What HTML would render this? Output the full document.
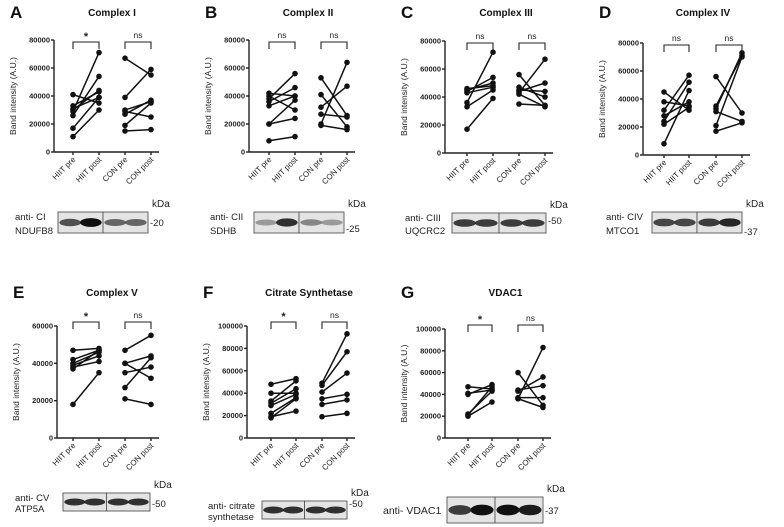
<!DOCTYPE html>
<html><head><meta charset="utf-8"><style>
html,body{margin:0;padding:0;background:#fff;}
svg{display:block;font-family:"Liberation Sans",Arial,sans-serif;}
</style></head><body>
<svg id="fig" width="784" height="527" viewBox="0 0 784 527" xmlns="http://www.w3.org/2000/svg"></svg>
<script>
const categories = ["HIIT pre","HIIT post","CON pre","CON post"];
const ticksTop = [0,20000,40000,60000,80000];
const ticksE = [0,20000,40000,60000];
const ticksFG = [0,20000,40000,60000,80000,100000];
const aHiitPre=[41,33,31,30,29,26,17,11], aHiitPost=[35,43,39,44,71,54,39,30];
const aConPre=[67,39,30,29,27,19,15], aConPost=[55,59,36,25,37,35,16];
const bHiitPre=[42,40,38,36,33,20,20,8], bHiitPost=[40,30,56,46,40,37,24,11];
const bConPre=[53,41,32,27,20,19], bConPost=[26,18,47,25,64,16];
const cHiitPre=[46,45,44,43,36,33,17], cHiitPost=[48,50,54,47,72,45,39];
const cConPre=[56,47,45,44,43,42,35], cConPost=[34,40,44,50,67,33,34];
const dHiitPre=[45,38,32,28,24,22,8], dHiitPost=[32,35,57,38,52,34,46];
const dConPre=[56,35,33,31,21,17], dConPost=[30,71,73,24,70,23];
const eHiitPre=[47,42,40,39,38,37,18], eHiitPost=[48,47,46,44,41,47,35];
const eConPre=[47,40,40,35,27,21], eConPost=[55,44,32,38,43,18];
const fHiitPre=[48,40,33,31,29,22,19,18], fHiitPost=[53,40,51,44,39,36,24,35];
const fConPre=[49,47,41,35,30,19], fConPost=[93,77,58,39,34,22];
const gHiitPre=[47,41,40,22,21,20], gHiitPost=[45,44,49,43,47,33];
const gConPre=[60,44,43,37,36,36], gConPost=[30,48,56,37,83,28];
const sigLabels=["*","ns","ns","ns","*","*","*"];
const sigCon=["ns","ns","ns","ns","ns","ns","ns"];

const panels=[
 {k:"a",L:"A",t:"Complex I",ax:54,cx:[73,99,125,151],y0:152,yT:40,ticks:ticksTop,hp:aHiitPre,ho:aHiitPost,cp:aConPre,co:aConPost,s:0,
  blot:{x:58,w:90,y:212,h:21,lx:15,l1:"anti- CI",l2:"NDUFB8",kda:"-20",ky:226,dark:[0.7,1,0.6,0.6]}},
 {k:"b",L:"B",t:"Complex II",ax:249,cx:[269,295,321,347],y0:152,yT:40,ticks:ticksTop,hp:bHiitPre,ho:bHiitPost,cp:bConPre,co:bConPost,s:1,
  blot:{x:254,w:90,y:212,h:21,lx:210,l1:"anti- CII",l2:"SDHB",kda:"-25",ky:232,dark:[0.35,0.85,0.45,0.35]}},
 {k:"c",L:"C",t:"Complex III",ax:445,cx:[467,493,519,545],y0:153,yT:41,ticks:ticksTop,hp:cHiitPre,ho:cHiitPost,cp:cConPre,co:cConPost,s:2,
  blot:{x:452,w:94,y:213,h:20,lx:405,l1:"anti- CIII",l2:"UQCRC2",kda:"-50",ky:224,dark:[0.8,0.8,0.8,0.8]}},
 {k:"d",L:"D",t:"Complex IV",ax:643,cx:[664,689,716,742],y0:155,yT:43,ticks:ticksTop,hp:dHiitPre,ho:dHiitPost,cp:dConPre,co:dConPost,s:3,
  blot:{x:652,w:90,y:212,h:21,lx:606,l1:"anti- CIV",l2:"MTCO1",kda:"-37",ky:235,dark:[0.75,0.75,0.8,0.9]}},
 {k:"e",L:"E",t:"Complex V",ax:57,cx:[73,99,125,151],y0:438,yT:326,ticks:ticksE,hp:eHiitPre,ho:eHiitPost,cp:eConPre,co:eConPost,s:4,
  blot:{x:63,w:87,y:493,h:18,lx:15,l1:"anti- CV",l2:"ATP5A",kda:"-50",ky:507,dark:[0.85,0.85,0.85,0.85]}},
 {k:"f",L:"F",t:"Citrate Synthetase",ax:247,cx:[271,296,322,347],y0:438,yT:326,ticks:ticksFG,hp:fHiitPre,ho:fHiitPost,cp:fConPre,co:fConPost,s:5,
  blot:{x:262,w:85,y:501,h:18,lx:208,l1:"anti- citrate",l2:"synthetase",kda:"-50",ky:507,dark:[0.85,0.85,0.85,0.85]}},
 {k:"g",L:"G",t:"VDAC1",ax:445,cx:[468,492,518,543],y0:438,yT:329,ticks:ticksFG,hp:gHiitPre,ho:gHiitPost,cp:gConPre,co:gConPost,s:6,
  blot:{x:447,w:96,y:497,h:26,lx:383,l1:"anti- VDAC1",l2:"",kda:"-37",ky:514,dark:[0.8,1,1,0.95]}}
];
const svg=document.getElementById('fig');
const NS="http://www.w3.org/2000/svg";
function mk(tag,attrs,parent){const e=document.createElementNS(NS,tag);for(const a in attrs)e.setAttribute(a,attrs[a]);(parent||svg).appendChild(e);return e;}
function txt(s,attrs,parent){const e=mk('text',attrs,parent);e.textContent=s;return e;}

panels.forEach(p=>{
  const g=mk('g',{});
  
  
  const ymax=p.ticks[p.ticks.length-1];
  const Y=v=>p.y0-(v/ymax)*(p.y0-p.yT);
  const X=i=>p.cx[i];
  const isTop=p.y0<200;
  const ty=isTop?17:297;
  const lt=txt(p.L,{x:p.ax-44,y:ty+1,'font-size':17,'font-weight':'bold',fill:'#111'},g);
  
  
  const tt=txt(p.t,{x:(p.cx[0]+p.cx[3])/2,y:ty-1,'font-size':10,'font-weight':'bold','text-anchor':'middle',fill:'#111'},g);
  
  
  const ya=mk('line',{x1:p.ax,y1:p.yT,x2:p.ax,y2:p.y0,stroke:'#222','stroke-width':1.4},g);
  
  
  const xa=mk('line',{x1:p.ax,y1:p.y0,x2:p.cx[3]+8,y2:p.y0,stroke:'#222','stroke-width':1.4},g);
  
  
  p.ticks.forEach(t=>{
    mk('line',{x1:p.ax-3,y1:Y(t),x2:p.ax,y2:Y(t),stroke:'#222','stroke-width':1.4},g);
    const tl=txt(String(t),{x:p.ax-4,y:Y(t)+2.5,'font-size':7.5,'font-weight':'bold','text-anchor':'end',fill:'#222'},g);
    
    
  });
  const yt=txt('Band intensity (A.U.)',{x:0,y:0,'font-size':8.5,'text-anchor':'middle',fill:'#222',transform:`translate(${p.ax-38},${(p.y0+p.yT)/2}) rotate(-90)`},g);
  
  
  categories.forEach((c,i)=>{
    mk('line',{x1:X(i),y1:p.y0,x2:X(i),y2:p.y0+3,stroke:'#222','stroke-width':1.4},g);
    const cl=txt(c,{x:0,y:0,'font-size':8,'text-anchor':'end',fill:'#222',transform:`translate(${X(i)+3},${p.y0+8}) rotate(-45)`},g);
    
    
  });
  [[p.hp,p.ho,0],[p.cp,p.co,2]].forEach(([pre,post,i0])=>{
    pre.forEach((v,j)=>{
      const w=post[j];
      const ln=mk('line',{x1:X(i0),y1:Y(v*1000),x2:X(i0+1),y2:Y(w*1000),stroke:'#111','stroke-width':1.5},g);
      
      
      const c1=mk('circle',{cx:X(i0),cy:Y(v*1000),r:2.8,fill:'#111'},g);
      
      
      const c2=mk('circle',{cx:X(i0+1),cy:Y(w*1000),r:2.8,fill:'#111'},g);
      
      
    });
  });
  const by=p.yT+(isTop?2:-4);
  [[0,sigLabels[p.s]],[2,sigCon[p.s]]].forEach(([i0,lab])=>{
    const br=mk('path',{d:`M${X(i0)},${by+7}V${by}H${X(i0+1)}V${by+7}`,fill:'none',stroke:'#222','stroke-width':1.1},g);
    
    
    const sl=txt(lab,{x:(X(i0)+X(i0+1))/2,y:lab==='*'?by-2:by-4,'font-size':lab==='*'?11:8.5,'font-weight':lab==='*'?'bold':'normal','text-anchor':'middle',fill:'#222'},g);
    
    
  });
  const b=p.blot;
  const bg=mk('g',{},g);
  
  
  const half=b.w/2;
  [0,1].forEach(h=>{
    mk('rect',{x:b.x+h*half,y:b.y,width:half,height:b.h,fill:'#e4e4e4',stroke:'#555','stroke-width':0.9},bg);
  });
  for(let i=0;i<4;i++){
    const cx=b.x+half*(Math.floor(i/2))+half*(i%2?0.73:0.27);
    const d=b.dark[i];
    mk('ellipse',{cx:cx,cy:b.y+b.h/2,rx:half*0.24,ry:Math.max(2,b.h*0.16*(0.7+d*0.6)),fill:'#111','fill-opacity':d},bg);
  }
  const l1=txt(b.l1,{x:b.lx,y:b.l2?b.y+8:b.y+b.h/2+4,'font-size':b.l2?9.5:10.5,fill:'#222'},g);
  
  
  if(b.l2){const l2=txt(b.l2,{x:b.lx,y:b.y+b.h+1,'font-size':9.5,fill:'#222'},g);
    
    }
  const kd=txt('kDa',{x:b.x+b.w+4,y:b.y-5,'font-size':10,fill:'#222'},g);
  
  
  const km=txt(b.kda,{x:b.x+b.w+2,y:b.ky,'font-size':9.5,fill:'#222'},g);
  
  
});
</script>
</body></html>
